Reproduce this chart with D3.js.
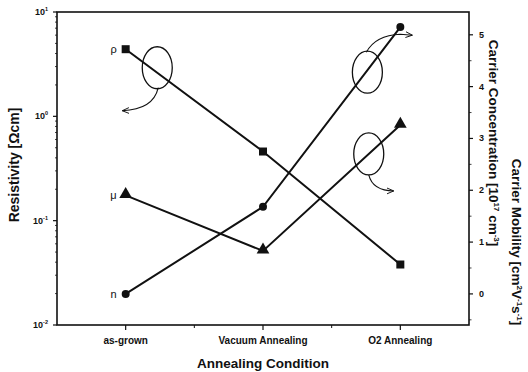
<!DOCTYPE html>
<html>
<head>
<meta charset="utf-8">
<script src="https://cdn.jsdelivr.net/npm/d3@7"></script>
<style>
  body { margin: 0; background: #fff; }
  text { font-family: "Liberation Sans", Arial, sans-serif; fill: #111; }
</style>
</head>
<body>
<div id="chart"></div>
<script>
// chart values
const categories = ["as-grown", "Vacuum Annealing", "O2 Annealing"];
const resistivity = [4.4, 0.46, 0.038];     // Ω·cm, left log axis
const concentration = [0, 1.68, 5.15];      // 10^17 cm^-3, right axis
const mobility = [1.9, 0.83, 3.26];         // cm^2/Vs, right axis
const leftTicks = [1e-2, 1e-1, 1e0, 1e1];
const leftTickExp = ["-2", "-1", "0", "1"];
const rightTicks = [0, 1, 2, 3, 4, 5];

const width = 528, height = 372;
const plotL = 57, plotR = 469, plotT = 12, plotB = 325;

const svg = d3.select("#chart").append("svg")
  .attr("width", width).attr("height", height);

// scales
const x = d3.scaleLinear().domain([0.5, 3.5]).range([plotL, plotR]);
const yL = d3.scaleLog().domain([0.01, 10]).range([plotB, plotT]);
const yR = d3.scaleLinear().domain([-0.6, 5.44]).range([plotB, plotT]);

// frame
svg.append("rect")
  .attr("x", plotL).attr("y", plotT)
  .attr("width", plotR - plotL).attr("height", plotB - plotT)
  .attr("fill", "none").attr("stroke", "#111").attr("stroke-width", 1.6);

// left log axis ticks
const minorL = [];
[0.01, 0.1, 1].forEach(d => { for (let k = 2; k <= 9; k++) minorL.push(d * k); });
svg.append("g").selectAll("line.minor").data(minorL).join("line")
  .attr("x1", plotL).attr("x2", plotL - 2)
  .attr("y1", d => yL(d)).attr("y2", d => yL(d))
  .attr("stroke", "#111").attr("stroke-width", 0.8);
svg.append("g").selectAll("line").data(leftTicks).join("line")
  .attr("x1", plotL).attr("x2", plotL - 4)
  .attr("y1", d => yL(d)).attr("y2", d => yL(d))
  .attr("stroke", "#111").attr("stroke-width", 1.2);
const lt = svg.append("g").selectAll("text").data(leftTicks).join("text")
  .attr("x", plotL - 9).attr("y", d => yL(d) + 3)
  .attr("text-anchor", "end")
  .style("font-size", "9px").style("font-weight", "bold");
lt.append("tspan").text("10");
lt.append("tspan").text((d, i) => leftTickExp[i])
  .attr("dy", -4).style("font-size", "5.5px");

// right axis ticks
const minorR = d3.range(-0.5, 5.5, 0.5).filter(d => d % 1 !== 0);
svg.append("g").selectAll("line").data(minorR).join("line")
  .attr("x1", plotR).attr("x2", plotR + 2.5)
  .attr("y1", d => yR(d)).attr("y2", d => yR(d))
  .attr("stroke", "#111").attr("stroke-width", 0.8);
svg.append("g").selectAll("line").data(rightTicks).join("line")
  .attr("x1", plotR).attr("x2", plotR + 4)
  .attr("y1", d => yR(d)).attr("y2", d => yR(d))
  .attr("stroke", "#111").attr("stroke-width", 1.2);
svg.append("g").selectAll("text").data(rightTicks).join("text")
  .attr("x", plotR + 10).attr("y", d => yR(d) + 3)
  .style("font-size", "9px").style("font-weight", "bold")
  .text(d => d);

// x axis ticks
const minorX = [1.5, 2.5];
svg.append("g").selectAll("line").data(minorX).join("line")
  .attr("x1", d => x(d)).attr("x2", d => x(d))
  .attr("y1", plotB).attr("y2", plotB + 3)
  .attr("stroke", "#111").attr("stroke-width", 1);
svg.append("g").selectAll("line").data(categories).join("line")
  .attr("x1", (d, i) => x(i + 1)).attr("x2", (d, i) => x(i + 1))
  .attr("y1", plotB).attr("y2", plotB + 5)
  .attr("stroke", "#111").attr("stroke-width", 1.2);
svg.append("g").selectAll("text").data(categories).join("text")
  .attr("x", (d, i) => x(i + 1)).attr("y", plotB + 19)
  .attr("text-anchor", "middle")
  .style("font-size", "10px").style("font-weight", "bold")
  .text(d => d);

// axis titles
svg.append("text")
  .attr("transform", `translate(${x(2)},${plotB + 43})`)
  .attr("text-anchor", "middle")
  .style("font-size", "13.5px").style("font-weight", "bold")
  .text("Annealing Condition");

svg.append("text")
  .attr("transform", `translate(19,165) rotate(-90)`)
  .attr("text-anchor", "middle")
  .style("font-size", "14px").style("font-weight", "bold")
  .text("Resistivity [Ωcm]");

const rc = svg.append("text")
  .attr("transform", `translate(489,143) rotate(90)`)
  .attr("text-anchor", "middle")
  .style("font-size", "13.5px").style("font-weight", "bold");
rc.append("tspan").text("Carrier Concentration [10");
rc.append("tspan").text("17").attr("dy", -5).style("font-size", "8px");
rc.append("tspan").text(" cm").attr("dy", 5);
rc.append("tspan").text("-3").attr("dy", -5).style("font-size", "8px");
rc.append("tspan").text("]").attr("dy", 5);

const rm = svg.append("text")
  .attr("transform", `translate(512,242) rotate(90)`)
  .attr("text-anchor", "middle")
  .style("font-size", "13.5px").style("font-weight", "bold");
rm.append("tspan").text("Carrier Mobility [cm");
rm.append("tspan").text("2").attr("dy", -5).style("font-size", "8px");
rm.append("tspan").text("V").attr("dy", 5);
rm.append("tspan").text("-1").attr("dy", -5).style("font-size", "8px");
rm.append("tspan").text("s").attr("dy", 5);
rm.append("tspan").text("-1").attr("dy", -5).style("font-size", "8px");
rm.append("tspan").text("]").attr("dy", 5);

// series lines
const lineL = d3.line().x((d, i) => x(i + 1)).y(d => yL(d));
const lineR = d3.line().x((d, i) => x(i + 1)).y(d => yR(d));
[[resistivity, lineL], [concentration, lineR], [mobility, lineR]].forEach(([vals, gen]) => {
  svg.append("path").datum(vals)
    .attr("d", gen).attr("fill", "none")
    .attr("stroke", "#111").attr("stroke-width", 2);
});

// markers
svg.append("g").selectAll("rect").data(resistivity).join("rect")
  .attr("x", (d, i) => x(i + 1) - 4).attr("y", d => yL(d) - 4)
  .attr("width", 8).attr("height", 8).attr("fill", "#111");
svg.append("g").selectAll("circle").data(concentration).join("circle")
  .attr("cx", (d, i) => x(i + 1)).attr("cy", d => yR(d))
  .attr("r", 4).attr("fill", "#111");
const tri = d3.symbol().type(d3.symbolTriangle).size(70);
svg.append("g").selectAll("path").data(mobility).join("path")
  .attr("d", tri)
  .attr("transform", (d, i) => `translate(${x(i + 1)},${yR(d) - 1})`)
  .attr("fill", "#111");

// series labels
const labels = [["ρ", yL(resistivity[0])], ["μ", yR(mobility[0])], ["n", yR(concentration[0])]];
svg.append("g").selectAll("text").data(labels).join("text")
  .attr("x", x(1) - 9).attr("y", d => d[1] + 4)
  .attr("text-anchor", "end")
  .style("font-size", "11px")
  .text(d => d[0]);

// annotations: ellipses on segments with curved arrows
svg.append("defs").append("marker")
  .attr("id", "ah").attr("viewBox", "0 -4 8 8")
  .attr("refX", 7).attr("refY", 0)
  .attr("markerWidth", 7).attr("markerHeight", 7)
  .attr("orient", "auto")
  .append("path").attr("d", "M0,-3L7,0L0,3")
  .attr("fill", "none").attr("stroke", "#111").attr("stroke-width", 1);

function along(a, b, t) { return [a[0] + (b[0] - a[0]) * t, a[1] + (b[1] - a[1]) * t]; }
const pRho = resistivity.map((d, i) => [x(i + 1), yL(d)]);
const pN = concentration.map((d, i) => [x(i + 1), yR(d)]);
const pMu = mobility.map((d, i) => [x(i + 1), yR(d)]);

const notes = [
  { c: along(pRho[0], pRho[1], 0.23), dy: -5, arrow: "M1,20 Q-4,42 -35,43" },
  { c: along(pN[1], pN[2], 0.76), dy: 2, arrow: "M-1,-20 Q8,-37 33,-38 L45,-37" },
  { c: along(pMu[1], pMu[2], 0.77), dy: 0, arrow: "M0,21 Q4,37 25,37" }
];
notes.forEach(n => {
  const g = svg.append("g").attr("transform", `translate(${n.c[0]},${n.c[1] + n.dy})`);
  g.append("ellipse").attr("rx", 15).attr("ry", 21)
    .attr("fill", "none").attr("stroke", "#111").attr("stroke-width", 1.3);
  g.append("path").attr("d", n.arrow)
    .attr("fill", "none").attr("stroke", "#111").attr("stroke-width", 1.1)
    .attr("marker-end", "url(#ah)");
});
</script>
</body>
</html>
